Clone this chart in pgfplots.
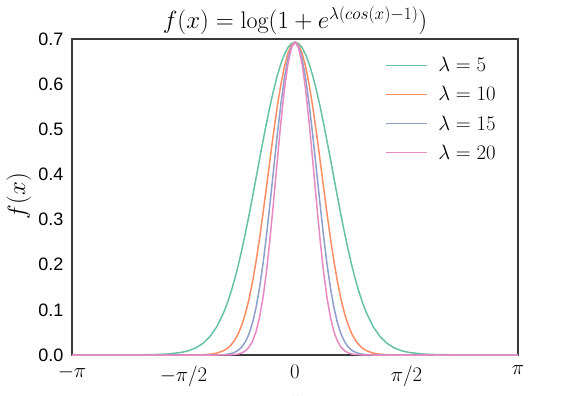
\documentclass[border=0pt]{standalone}
\usepackage{fontspec}
\newfontfamily\arial{Liberation Sans}
\usepackage{pgfplots}
\pgfplotsset{compat=1.18}
\usepackage{pgfplotstable}
\definecolor{setgreen}{HTML}{66C2A5}
\definecolor{setorange}{HTML}{FC8D62}
\definecolor{setblue}{HTML}{8DA0CB}
\definecolor{setpink}{HTML}{E78AC3}
\definecolor{framegray}{HTML}{3A3A3A}

% f(x) = log(1 + exp(lambda (cos x - 1))), columns: lambda = 5, 10, 15, 20
\pgfplotstableread{
x        a       b       c       d
-3.14159 0.00005 0       0       0
-2.80    0.00006 0       0       0
-2.40    0.00017 0       0       0
-2.00    0.00084 0       0       0
-1.80    0.00216 0       0       0
-1.60    0.00580 0.00003 0       0
-1.50    0.00955 0.00009 0       0
-1.40    0.01564 0.00025 0       0
-1.30    0.02535 0.00066 0.00002 0
-1.20    0.04042 0.00170 0.00007 0
-1.10    0.06306 0.00423 0.00028 0.00002
-1.00    0.09568 0.01003 0.00101 0.00010
-0.95    0.11644 0.01513 0.00188 0.00023
-0.90    0.14044 0.02248 0.00342 0.00052
-0.85    0.16777 0.03282 0.00607 0.00111
-0.80    0.19844 0.04705 0.01051 0.00232
-0.75    0.23225 0.06611 0.01771 0.00466
-0.70    0.26895 0.09095 0.02896 0.00903
-0.65    0.30801 0.12234 0.04588 0.01680
-0.60    0.34894 0.16072 0.07028 0.02995
-0.55    0.39094 0.20606 0.10388 0.05104
-0.50    0.43322 0.25775 0.14791 0.08290
-0.45    0.47492 0.31447 0.20264 0.12800
-0.40    0.51516 0.37440 0.26700 0.18750
-0.35    0.55302 0.43527 0.33845 0.26039
-0.30    0.58771 0.49456 0.41325 0.34310
-0.25    0.61845 0.54973 0.48692 0.42983
-0.20    0.64456 0.59845 0.55478 0.51356
-0.15    0.66547 0.63858 0.61247 0.58715
-0.10    0.68074 0.66848 0.65638 0.64434
-0.05    0.69003 0.68692 0.68382 0.68073
 0.00    0.69315 0.69315 0.69315 0.69315
 0.05    0.69003 0.68692 0.68382 0.68073
 0.10    0.68074 0.66848 0.65638 0.64434
 0.15    0.66547 0.63858 0.61247 0.58715
 0.20    0.64456 0.59845 0.55478 0.51356
 0.25    0.61845 0.54973 0.48692 0.42983
 0.30    0.58771 0.49456 0.41325 0.34310
 0.35    0.55302 0.43527 0.33845 0.26039
 0.40    0.51516 0.37440 0.26700 0.18750
 0.45    0.47492 0.31447 0.20264 0.12800
 0.50    0.43322 0.25775 0.14791 0.08290
 0.55    0.39094 0.20606 0.10388 0.05104
 0.60    0.34894 0.16072 0.07028 0.02995
 0.65    0.30801 0.12234 0.04588 0.01680
 0.70    0.26895 0.09095 0.02896 0.00903
 0.75    0.23225 0.06611 0.01771 0.00466
 0.80    0.19844 0.04705 0.01051 0.00232
 0.85    0.16777 0.03282 0.00607 0.00111
 0.90    0.14044 0.02248 0.00342 0.00052
 0.95    0.11644 0.01513 0.00188 0.00023
 1.00    0.09568 0.01003 0.00101 0.00010
 1.10    0.06306 0.00423 0.00028 0.00002
 1.20    0.04042 0.00170 0.00007 0
 1.30    0.02535 0.00066 0.00002 0
 1.40    0.01564 0.00025 0       0
 1.50    0.00955 0.00009 0       0
 1.60    0.00580 0.00003 0       0
 1.80    0.00216 0       0       0
 2.00    0.00084 0       0       0
 2.40    0.00017 0       0       0
 2.80    0.00006 0       0       0
 3.14159 0.00005 0       0       0
}\curves

\begin{document}
\begin{tikzpicture}
\begin{axis}[
    scale only axis,
    width=446pt,
    height=316pt,
    xmin=-3.14159, xmax=3.14159,
    ymin=0, ymax=0.7,
    xtick={-3.14159,-1.5708,0,1.5708,3.14159},
    xticklabels={$-\pi$,$-\pi/2$,$0$,$\pi/2$,$\pi$},
    ytick={0,0.1,0.2,0.3,0.4,0.5,0.6,0.7},
    yticklabel style={font=\arial\fontsize{18}{18}\selectfont, xshift=-5pt,
        /pgf/number format/.cd, fixed, fixed zerofill, precision=1,
        assume math mode=true},
    xticklabel style={font=\fontsize{20}{20}\selectfont, yshift=-7pt},
    major tick length=0pt,
    axis line style={framegray, line width=1.1pt},
    title={$f(x) = \log(1+e^{\lambda(cos(x)-1)})$},
    title style={font=\fontsize{24}{24}\selectfont, at={(0.5,1)}, anchor=base, yshift=4pt},
    xlabel={$x$},
    xlabel style={font=\fontsize{20}{20}\selectfont, at={(rel axis cs:0.5,-0.145)}, anchor=center},
    ylabel={$f(x)$},
    ylabel style={font=\fontsize{24}{24}\selectfont, at={(rel axis cs:-0.119,0.503)}, anchor=center},
    legend style={at={(0.975,0.955)}, anchor=north east, draw=none, fill=none,
        font=\fontsize{20}{20}\selectfont, row sep=9.2pt,
        nodes={inner xsep=8pt}},
    legend cell align=left,
    legend image code/.code={\draw[#1, line width=1.6pt] (0pt,0pt) -- (41pt,0pt);
        \path (44pt,0pt);},
    clip=false,
]
\addplot[setgreen, line width=1.5pt] table[x=x, y=a] {\curves};
\addlegendentry{$\lambda=5$}
\addplot[setorange, line width=1.5pt] table[x=x, y=b] {\curves};
\addlegendentry{$\lambda=10$}
\addplot[setblue, line width=1.5pt] table[x=x, y=c] {\curves};
\addlegendentry{$\lambda=15$}
\addplot[setpink, line width=1.5pt] table[x=x, y=d] {\curves};
\addlegendentry{$\lambda=20$}
\coordinate (bbA) at (rel axis cs:-0.1614,-0.1297);
\coordinate (bbB) at (rel axis cs:1.1300,1.1234);
\end{axis}
\pgfresetboundingbox
\path (bbA) rectangle (bbB);
\end{tikzpicture}
\end{document}
